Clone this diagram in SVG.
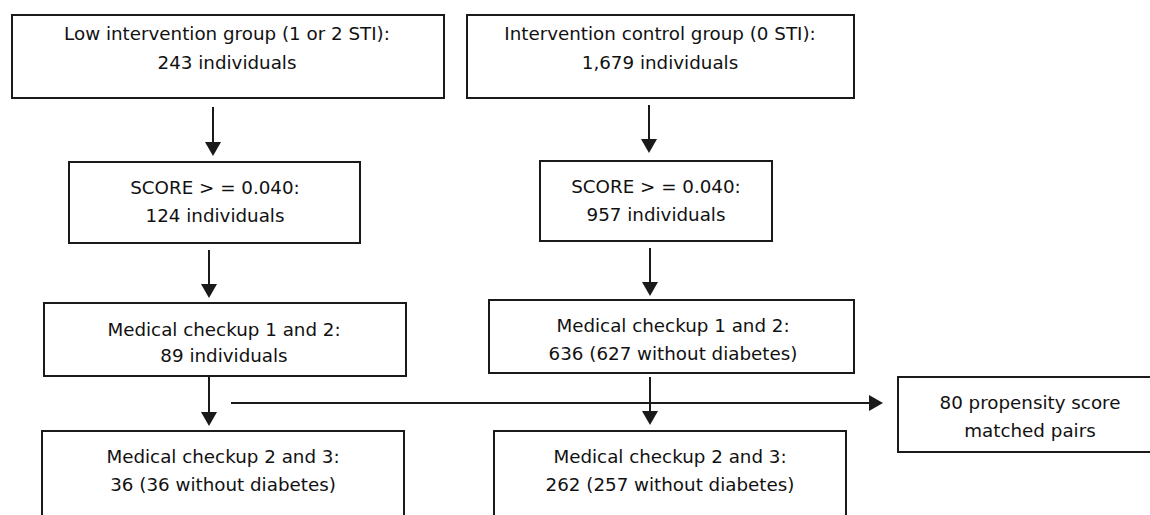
<svg xmlns="http://www.w3.org/2000/svg" width="1150" height="515" viewBox="0 0 1150 515">
  <style>
    .box { fill: #ffffff; stroke: #1a1a1a; stroke-width: 2; }
    .label { font-family: "DejaVu Sans", "Liberation Sans", sans-serif; font-size: 18.3px; fill: #111111; text-anchor: middle; }
    .link { fill: none; stroke: #1a1a1a; stroke-width: 2; marker-end: url(#head); }
  </style>
  <defs>
    <marker id="head" viewBox="0 0 14 16" refX="4" refY="8" markerWidth="14" markerHeight="16" markerUnits="userSpaceOnUse" orient="auto">
      <path d="M0,0 L14,8 L0,16 z" fill="#1a1a1a"/>
    </marker>
  </defs>
  <rect width="1150" height="515" fill="#ffffff"/>

  <!-- Connectors -->
  <g id="connectors">
    <line class="link" x1="213" y1="107" x2="213" y2="146"/>
    <line class="link" x1="649" y1="105" x2="649" y2="143"/>
    <line class="link" x1="209" y1="250" x2="209" y2="288"/>
    <line class="link" x1="650" y1="248" x2="650" y2="286"/>
    <line class="link" x1="209" y1="376" x2="209" y2="416"/>
    <line class="link" x1="650" y1="377" x2="650" y2="415"/>
    <line class="link" x1="231" y1="403" x2="873" y2="403"/>
  </g>

  <!-- Row 1 -->
  <g id="low-group">
    <rect class="box" x="12" y="15" width="432" height="83"/>
    <text class="label" x="227" y="39.5">Low intervention group (1 or 2 STI):</text>
    <text class="label" x="227" y="68.5">243 individuals</text>
  </g>
  <g id="control-group">
    <rect class="box" x="467" y="15" width="387" height="83"/>
    <text class="label" x="660" y="39.5">Intervention control group (0 STI):</text>
    <text class="label" x="660" y="68.5">1,679 individuals</text>
  </g>

  <!-- Row 2 -->
  <g id="low-score">
    <rect class="box" x="69" y="162" width="291" height="81"/>
    <text class="label" x="215" y="194">SCORE &gt; = 0.040:</text>
    <text class="label" x="215" y="221.5">124 individuals</text>
  </g>
  <g id="control-score">
    <rect class="box" x="540" y="161" width="232" height="80"/>
    <text class="label" x="656" y="193.3">SCORE &gt; = 0.040:</text>
    <text class="label" x="656" y="220.7">957 individuals</text>
  </g>

  <!-- Row 3 -->
  <g id="low-checkup-12">
    <rect class="box" x="44" y="303" width="362" height="73"/>
    <text class="label" x="224" y="335.5">Medical checkup 1 and 2:</text>
    <text class="label" x="224" y="362.3">89 individuals</text>
  </g>
  <g id="control-checkup-12">
    <rect class="box" x="489" y="300" width="365" height="73"/>
    <text class="label" x="673" y="332.3">Medical checkup 1 and 2:</text>
    <text class="label" x="673" y="360">636 (627 without diabetes)</text>
  </g>

  <!-- Row 4 -->
  <g id="low-checkup-23">
    <rect class="box" x="42" y="431" width="362" height="100"/>
    <text class="label" x="223" y="463.3">Medical checkup 2 and 3:</text>
    <text class="label" x="223" y="490.7">36 (36 without diabetes)</text>
  </g>
  <g id="control-checkup-23">
    <rect class="box" x="494" y="431" width="352" height="100"/>
    <text class="label" x="670" y="463.3">Medical checkup 2 and 3:</text>
    <text class="label" x="670" y="490.7">262 (257 without diabetes)</text>
  </g>

  <!-- Matched pairs -->
  <g id="matched-pairs">
    <rect class="box" x="898" y="377" width="270" height="75"/>
    <text class="label" x="1030" y="409.3">80 propensity score</text>
    <text class="label" x="1030" y="437">matched pairs</text>
  </g>
</svg>
